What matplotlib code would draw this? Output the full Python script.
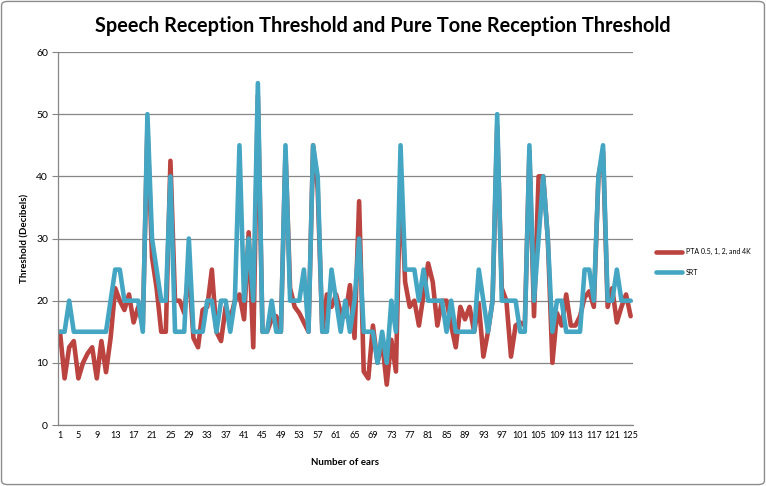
import matplotlib
matplotlib.use('Agg')
import matplotlib.pyplot as plt
from matplotlib.patches import FancyBboxPatch
import numpy as np

ears = np.arange(1, 126)

pta = [15, 7.5, 12.5, 13.5, 7.5, 10, 11.5, 12.5, 7.5, 13.5,
       8.5, 14, 22, 20, 18.5, 21, 16.5, 19, 16, 48,
       27, 22, 15, 15, 42.5, 20, 20, 18, 25, 14,
       12.5, 18.5, 19, 25, 15, 13.5, 19, 17, 20, 21,
       17, 31, 12.5, 53, 15, 15, 17, 17.5, 15, 44,
       22, 19, 18, 16.5, 15, 45, 38, 15, 21, 19,
       21, 18, 17.5, 22.5, 14, 36, 8.6, 7.5, 16, 10,
       13.5, 6.5, 13.7, 8.6, 40, 23, 19, 20, 16, 21,
       26, 23, 16, 20, 20, 16, 12.5, 19, 17, 19,
       15, 19.5, 11, 15, 20, 48, 22, 20, 11, 16,
       16.5, 16, 44, 17.5, 40, 40, 30, 10, 18, 16,
       21, 16, 16, 17.5, 20.5, 21.5, 19, 40, 44, 19,
       22, 16.5, 19, 21, 17.5]

srt = [15, 15, 20, 15, 15, 15, 15, 15, 15, 15,
       15, 20, 25, 25, 20, 20, 20, 20, 15, 50,
       30, 25, 20, 20, 40, 15, 15, 15, 30, 15,
       15, 15, 20, 20, 15, 20, 20, 15, 20, 45,
       20, 30, 20, 55, 15, 15, 20, 15, 15, 45,
       20, 20, 20, 25, 15, 45, 40, 15, 15, 25,
       20, 15, 20, 15, 20, 30, 15, 15, 15, 10,
       15, 10, 20, 15, 45, 25, 25, 25, 20, 25,
       20, 20, 20, 20, 15, 20, 15, 15, 15, 15,
       15, 25, 20, 15, 20, 50, 20, 20, 20, 20,
       15, 15, 45, 20, 30, 40, 30, 15, 20, 20,
       15, 15, 15, 15, 25, 25, 20, 40, 45, 20,
       20, 25, 20, 20, 20]

xticks = list(range(1, 126, 4))

plt.rcParams['font.family'] = ['Lato', 'DejaVu Sans']

fig = plt.figure(figsize=(7.66, 4.86), dpi=100)
border = FancyBboxPatch((0.002, 0.003), 0.996, 0.994, boxstyle='round,pad=0,rounding_size=0.008',
                        transform=fig.transFigure, facecolor='white', edgecolor='#8c8c8c',
                        linewidth=1.0, zorder=-10)
fig.patches.append(border)

ax = fig.add_axes([0.0753, 0.1255, 0.751, 0.7675])
ax.plot(ears, pta, color='#BB4340', linewidth=3.3, solid_joinstyle='round',
        solid_capstyle='round', label='PTA 0.5, 1, 2, and 4K')
ax.plot(ears, srt, color='#44A6C2', linewidth=3.3, solid_joinstyle='round',
        solid_capstyle='round', label='SRT')

ax.set_xlim(0.5, 125.5)
ax.set_ylim(0, 60)
ax.set_yticks(range(0, 61, 10))
ax.set_xticks(xticks)
ax.tick_params(axis='y', labelsize=7.5, length=4, color='#868686', pad=3)
ax.tick_params(axis='x', labelsize=6.6, length=0, pad=4)
ax.grid(axis='y', color='#868686', linewidth=0.9)
ax.set_axisbelow(True)
for s in ['top', 'right']:
    ax.spines[s].set_visible(False)
for s in ['left', 'bottom']:
    ax.spines[s].set_color('#868686')
    ax.spines[s].set_linewidth(0.9)

fig.text(0.5, 0.946, 'Speech Reception Threshold and Pure Tone Reception Threshold',
         ha='center', va='center', fontsize=14.3, fontweight='bold')
ax.set_ylabel('Threshold (Decibels)', fontsize=7, fontweight='bold', labelpad=5)
ax.set_xlabel('Number of ears', fontsize=7, fontweight='bold', labelpad=13)

ax.legend(loc='center left', bbox_to_anchor=(0.848, 0.461), bbox_transform=fig.transFigure,
          frameon=False, fontsize=5, handlelength=3.7, labelspacing=2.0, handletextpad=0.6)

plt.savefig('out.png', dpi=100)
plt.close()
